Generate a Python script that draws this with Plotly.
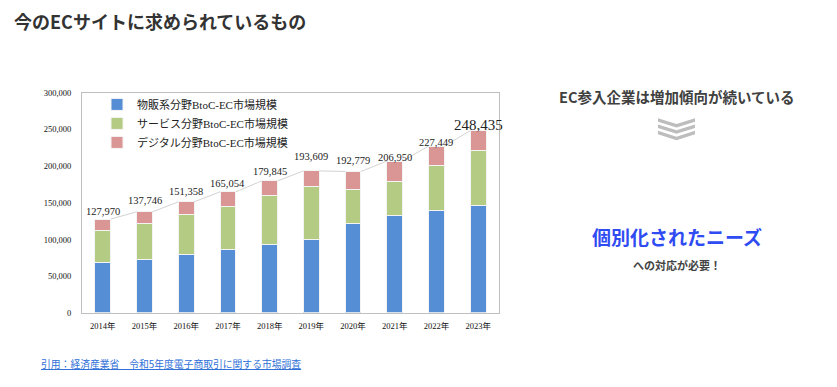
import plotly.graph_objects as go

# page is rendered with the browser's default 8px body margin
OFF = 8
W, H = 837 - OFF, 387 - OFF

years = ["2014年", "2015年", "2016年", "2017年", "2018年", "2019年", "2020年", "2021年", "2022年", "2023年"]
goods = [68043, 72398, 80043, 86008, 92992, 100515, 122333, 132865, 139997, 146760]
services = [44816, 49014, 53532, 59568, 66471, 71672, 45832, 46424, 61477, 75169]
digital = [15111, 16334, 17782, 19478, 20382, 21422, 24614, 27661, 25974, 26506]
totals = [127970, 137746, 151358, 165054, 179845, 193609, 192779, 206950, 227449, 248435]
series_names = ["物販系分野BtoC-EC市場規模", "サービス分野BtoC-EC市場規模", "デジタル分野BtoC-EC市場規模"]
colors = ["#558ED5", "#B4CB84", "#DA9694"]
y_ticks = [0, 50000, 100000, 150000, 200000, 250000, 300000]

label_shift = [8, 11, 10, 8, 9, 14, 11, 4, 4, 6]


def px(x):
    return (x - OFF) / W


def py(y):
    return 1 - (y - OFF) / H


xs = list(range(len(years)))
bw = 0.38
serif = "Liberation Serif, Noto Sans CJK JP, serif"
sans = "Noto Sans CJK JP, Noto Sans, sans-serif"

fig = go.Figure()
for name, vals, col in zip(series_names, [goods, services, digital], colors):
    fig.add_trace(go.Bar(
        x=xs, y=vals, name=name, width=bw,
        marker=dict(color=col, line=dict(color="#F4F4F4", width=1)),
        hoverinfo="skip",
    ))

# series line connecting bar tops
lx, ly = [], []
for i in range(len(xs) - 1):
    lx += [xs[i] + bw / 2, xs[i + 1] - bw / 2, None]
    ly += [totals[i], totals[i + 1], None]
fig.add_trace(go.Scatter(x=lx, y=ly, mode="lines", line=dict(color="#D3D3D3", width=1),
                         showlegend=False, hoverinfo="skip"))

annotations = []
for i, (x, t) in enumerate(zip(xs, totals)):
    big = i == len(xs) - 1
    annotations.append(dict(
        x=x, y=t, xref="x", yref="y", text=f"{t:,}", showarrow=False,
        yanchor="middle", yshift=label_shift[i],
        font=dict(family=serif, size=15 if big else 10.5, color="#222"),
    ))

annotations += [
    dict(x=px(12), y=py(16), xref="paper", yref="paper", xanchor="left", yanchor="middle",
         text="<b>今のECサイトに求められているもの</b>", showarrow=False,
         font=dict(family=sans, size=18, color="#333333")),
    dict(x=px(677), y=py(94), xref="paper", yref="paper", xanchor="center", yanchor="middle",
         text="<b>EC参入企業は増加傾向が続いている</b>", showarrow=False,
         font=dict(family=sans, size=14.5, color="#404040")),
    dict(x=px(677), y=py(238), xref="paper", yref="paper", xanchor="center", yanchor="middle",
         text="<b>個別化されたニーズ</b>", showarrow=False,
         font=dict(family=sans, size=19, color="#2F4BF2")),
    dict(x=px(677), y=py(267), xref="paper", yref="paper", xanchor="center", yanchor="middle",
         text="<b>への対応が必要！</b>", showarrow=False,
         font=dict(family=sans, size=11, color="#444444")),
    dict(x=px(39), y=py(368), xref="paper", yref="paper", xanchor="left", yanchor="middle",
         text="<u>引用：経済産業省　令和5年度電子商取引に関する市場調査</u>", showarrow=False,
         font=dict(family=sans, size=9.8, color="#2E6FD8")),
]

shapes = []
cx, half, depth, thick = 676.5, 18.5, 6, 3.6
for t in [116, 122.5, 129]:
    pts = [(cx - half, t), (cx, t + depth), (cx + half, t), (cx + half, t + thick),
           (cx, t + depth + thick), (cx - half, t + thick)]
    path = "M " + " L ".join(f"{px(a):.5f},{py(b):.5f}" for a, b in pts) + " Z"
    shapes.append(dict(type="path", path=path, xref="paper", yref="paper",
                       fillcolor="#BDBDBD", line=dict(width=0)))

fig.update_layout(
    width=W, height=H, margin=dict(l=0, r=0, t=0, b=0),
    paper_bgcolor="white", plot_bgcolor="white",
    barmode="stack", bargap=0.62,
    showlegend=True,
    legend=dict(x=px(97), y=py(87), xanchor="left", yanchor="top", traceorder="normal",
                font=dict(family=serif, size=11, color="#222"),
                bgcolor="rgba(0,0,0,0)", itemwidth=30, tracegroupgap=0),
    xaxis=dict(domain=[px(82), px(499)], range=[-0.5, 9.5],
               tickmode="array", tickvals=xs, ticktext=years,
               showgrid=False, zeroline=False, showline=True, linecolor="#BFBFBF", linewidth=1,
               mirror=True, ticks="", ticklabelstandoff=5,
               tickfont=dict(family=serif, size=8.5, color="#111")),
    yaxis=dict(domain=[py(316), py(90)], range=[0, 300000],
               tickmode="array", tickvals=y_ticks, ticktext=[f"{v:,}" for v in y_ticks],
               showgrid=False, zeroline=False, showline=True, linecolor="#BFBFBF", linewidth=1,
               mirror=True, ticks="", ticklabelstandoff=8,
               tickfont=dict(family=serif, size=8.5, color="#111")),
    annotations=annotations,
    shapes=shapes,
)

fig.write_html("out.html")
